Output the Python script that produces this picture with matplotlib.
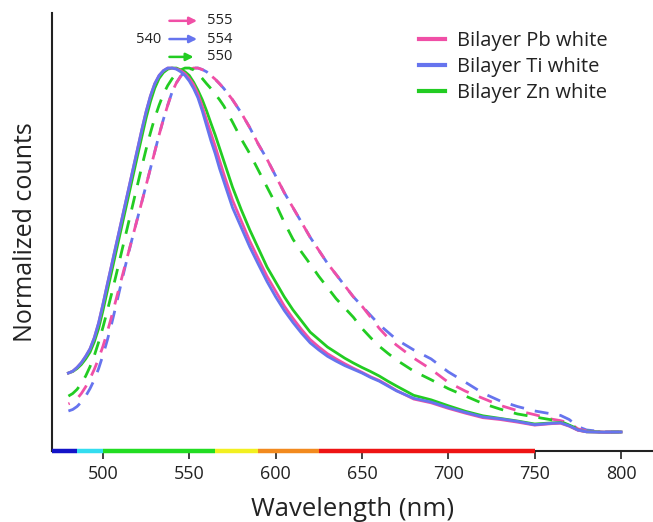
import matplotlib
matplotlib.use("Agg")
import matplotlib.pyplot as plt

plt.rcParams['font.family'] = ['Open Sans', 'DejaVu Sans']

# ---- data ----
wl = [480, 482.5, 485, 487.5, 490, 492.5, 495, 497.5, 500, 502.5, 505, 507.5, 510, 512.5,
      515, 517.5, 520, 522.5, 525, 527.5, 530, 532.5, 535, 537.5, 540, 542.5, 545, 547.5,
      550, 552.5, 555, 557.5, 560, 562.5, 565, 567.5, 570,
      575, 580, 585, 590, 595, 600, 605, 610, 615, 620, 625, 630, 635, 640, 645, 650, 655,
      660, 665, 670, 680, 690, 700, 710, 720, 730, 740, 750, 760, 765, 770, 775, 780, 790, 800]

ti_solid = [.18, .185, .195, .208, .225, .245, .275, .315, .365, .418, .47, .522, .574, .626,
            .678, .73, .782, .834, .883, .925, .958, .98, .993, 1.0, 1.0, .997, .99, .98,
            .965, .945, .92, .885, .845, .805, .77, .73, .695,
            .625, .572, .519, .472, .426, .385, .348, .316, .287, .261, .242, .225, .212, .200,
            .190, .180, .168, .158, .145, .132, .112, .102, .087, .074, .062, .057, .050, .041,
            .045, .046, .038, .027, .022, .021, .0215]
pb_solid = [.18, .185, .195, .208, .225, .245, .275, .315, .365, .418, .47, .522, .574, .626,
            .678, .73, .782, .834, .883, .925, .958, .98, .993, 1.0, 1.0, .998, .993, .985,
            .972, .955, .93, .897, .86, .825, .79, .752, .715,
            .645, .59, .535, .487, .44, .40, .36, .327, .297, .27, .25, .232, .218, .205,
            .193, .182, .170, .160, .147, .133, .11, .10, .085, .072, .06, .055, .048, .04,
            .044, .045, .037, .026, .022, .021, .0215]
zn_solid = [.18, .184, .192, .203, .218, .236, .264, .30, .348, .40, .452, .504, .556, .608,
            .66, .712, .764, .815, .866, .91, .946, .972, .988, .997, 1.0, 1.0, .995, .99,
            .98, .962, .94, .915, .885, .852, .82, .785, .75,
            .68, .62, .565, .515, .465, .425, .385, .35, .32, .29, .27, .25, .235, .22,
            .207, .195, .184, .172, .158, .145, .12, .108, .092, .077, .065, .058, .051, .043,
            .046, .047, .039, .027, .022, .021, .0215]
zn_dash = [.118, .125, .136, .152, .172, .197, .227, .263, .303, .347, .393, .441, .49, .539,
           .588, .637, .686, .735, .782, .826, .866, .9, .93, .953, .971, .985, .995, 1.0,
           1.0, .995, .985, .972, .958, .945, .93, .915, .898,
           .855, .81, .77, .725, .68, .635, .585, .54, .505, .473, .44, .41, .38, .355,
           .33, .30, .275, .252, .233, .215, .185, .162, .138, .118, .098, .083, .07, .062,
           .054, .05, .04, .03, .024, .021, .0215]
pb_dash = [.097, .102, .111, .125, .143, .165, .19, .219, .252, .29, .332, .376, .42, .464,
           .508, .552, .596, .64, .685, .73, .775, .82, .862, .90, .935, .96, .978, .99,
           .996, 1.0, 1.0, .996, .99, .98, .97, .958, .945,
           .915, .88, .84, .795, .755, .71, .665, .625, .585, .545, .51, .475, .445, .415,
           .385, .36, .33, .30, .275, .255, .22, .19, .155, .131, .112, .093, .079, .068,
           .056, .052, .046, .03, .024, .021, .0215]
ti_dash = [.078, .082, .09, .102, .118, .138, .162, .192, .228, .268, .312, .36, .41, .459,
           .506, .552, .596, .64, .685, .73, .775, .82, .862, .90, .935, .96, .978, .99,
           .996, 1.0, 1.0, .996, .99, .98, .97, .958, .945,
           .915, .88, .84, .795, .755, .71, .665, .625, .585, .545, .51, .475, .445, .415,
           .385, .36, .335, .31, .29, .27, .242, .218, .183, .155, .126, .105, .09, .078,
           .07, .066, .055, .036, .027, .022, .0215]

labels = ['Bilayer Pb white', 'Bilayer Ti white', 'Bilayer Zn white']
colors = ['#F04FA6', '#6674EE', '#22CC22']

tick_vals = [500, 550, 600, 650, 700, 750, 800]
spectrum_edges = [470.5, 485, 500, 565, 590, 625, 750]
spectrum_colors = ['#1414C8', '#33DDF0', '#22DD22', '#F2F020', '#F28A1E', '#EE1414']

peak_start = 540
peak_ends = [555, 554, 550]

# ---- figure ----
fig = plt.figure(figsize=(6.53, 5.22), dpi=100)
ax = fig.add_axes([52/653, 1-451/522, 1-52/653, (451-13)/522])

lw = 2.0
kw = dict(lw=lw, solid_joinstyle='round', dash_capstyle='butt')
ax.plot(wl, ti_dash, color=colors[1], ls=(0, (5, 4)), **kw)
ax.plot(wl, pb_dash, color=colors[0], ls=(4.5, (5, 4)), **kw)
ax.plot(wl, zn_dash, color=colors[2], ls=(0, (5, 4)), **kw)
ax.plot(wl, zn_solid, color=colors[2], **kw)
ax.plot(wl, pb_solid, color=colors[0], **kw)
ax.plot(wl, ti_solid, color=colors[1], **kw)

x0, x1 = 470.5, 818.5
y0, y1 = -0.0296, 1.148
ax.set_xlim(x0, x1)
ax.set_ylim(y0, y1)

# spectrum bar on the bottom axis
for i, c in enumerate(spectrum_colors):
    ax.plot([spectrum_edges[i], spectrum_edges[i+1]], [y0, y0], color=c, lw=3.2,
            solid_capstyle='butt', clip_on=False, zorder=5)

for s in ['top', 'right']:
    ax.spines[s].set_visible(False)
ax.spines['left'].set_linewidth(1.5)
ax.spines['bottom'].set_linewidth(1.5)
ax.spines['left'].set_color('#222222')
ax.spines['bottom'].set_color('#222222')

ax.set_xticks(tick_vals)
ax.set_xticklabels([str(t) for t in tick_vals], fontsize=13, color='#222222')
ax.tick_params(axis='x', direction='out', length=6, width=1.2, pad=4, color='#222222')
ax.set_yticks([])

ax.set_xlabel('Wavelength (nm)', fontsize=18.5, color='#222222', labelpad=10)
ax.set_ylabel('Normalized counts', fontsize=18, color='#222222', labelpad=10)

# legend
handles = [plt.Line2D([], [], color=c, lw=3) for c in colors]
leg = ax.legend(handles, labels, loc='upper right', bbox_to_anchor=(0.955, 1.0),
                frameon=False, fontsize=14.5, handlelength=1.3, labelspacing=0.3,
                handletextpad=0.6)
for t in leg.get_texts():
    t.set_color('#222222')

# peak-shift annotations
ann_y = [1.127, 1.078, 1.03]
arrow_ends = [554.5, 554.5, 552.5]
for yv, end, aend, c in zip(ann_y, peak_ends, arrow_ends, colors):
    ax.annotate('', xy=(aend, yv), xytext=(538.5, yv),
                arrowprops=dict(arrowstyle='-|>', color=c, lw=1.8, mutation_scale=11,
                                shrinkA=0, shrinkB=0),
                annotation_clip=False)
    ax.text(560, yv, str(end), fontsize=10.5, va='center', ha='left', color='#222222')
ax.text(534, ann_y[1], str(peak_start), fontsize=10.5, va='center', ha='right', color='#222222')

fig.savefig('out.png', dpi=100)
